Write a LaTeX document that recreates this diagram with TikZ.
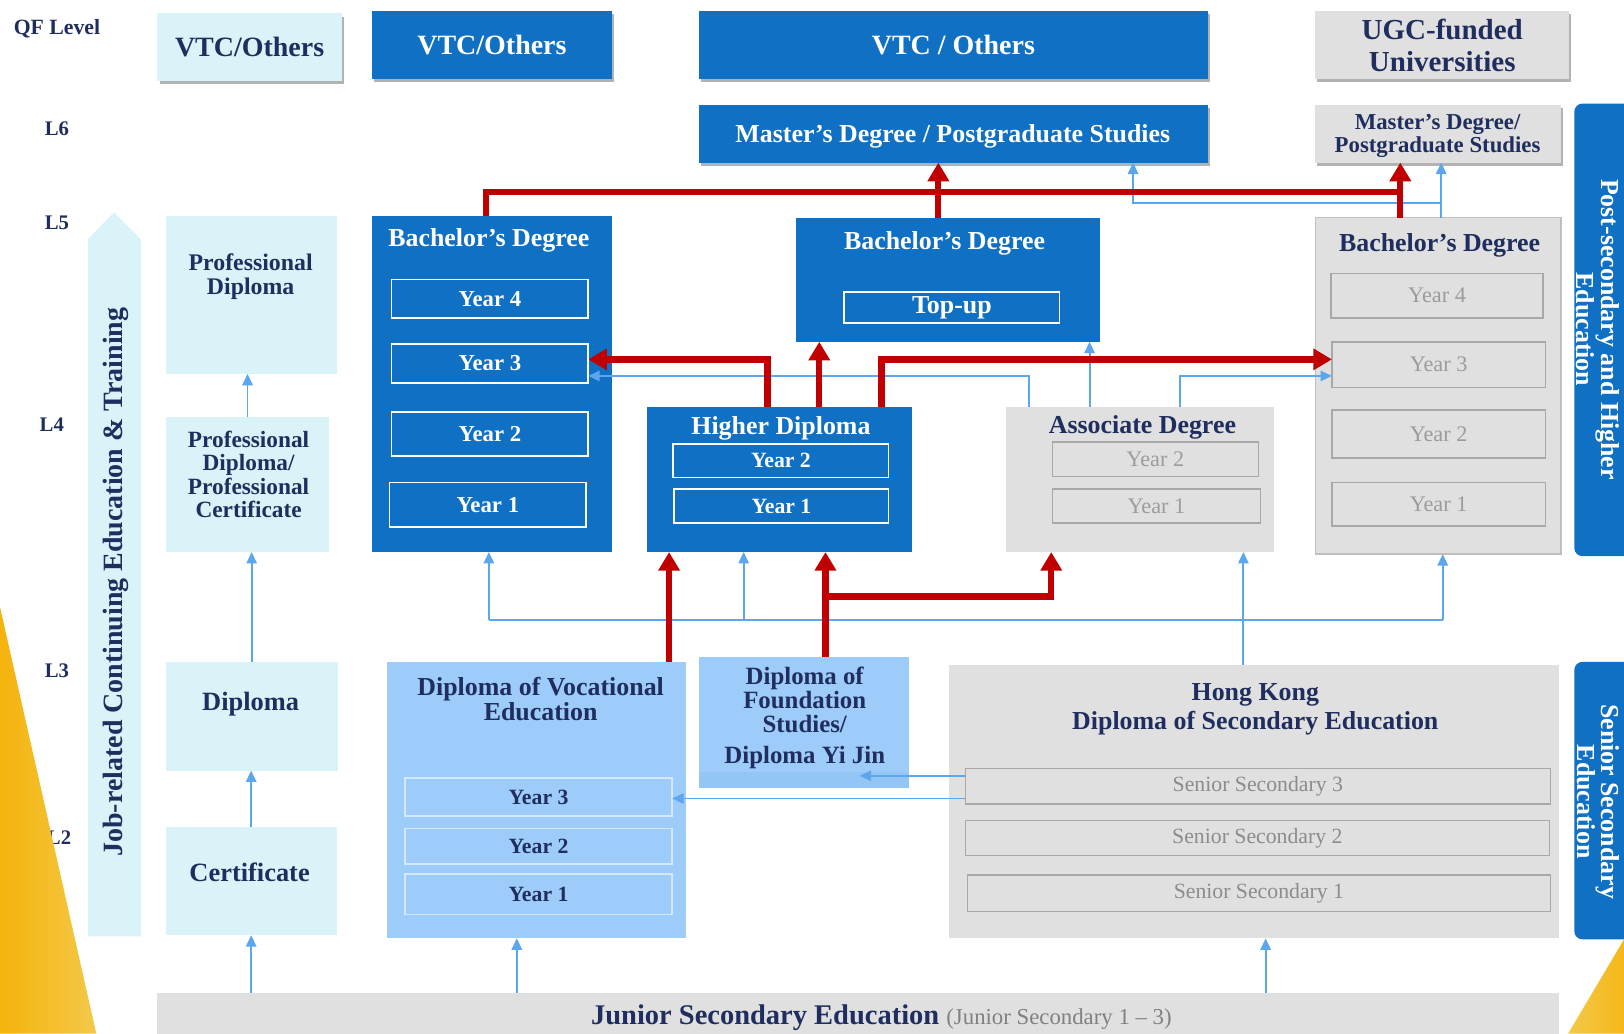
\documentclass[tikz,border=0pt]{standalone}
\usepackage{fontspec}
\setmainfont{Liberation Serif}
\usetikzlibrary{arrows.meta,shadows}
\definecolor{dkblue}{HTML}{1070C4}
\definecolor{lcyan}{HTML}{DAF3F8}
\definecolor{lblue}{HTML}{9DCCFB}
\definecolor{lbluedark}{HTML}{93C5F5}
\definecolor{lgray}{HTML}{E0E0E0}
\definecolor{navy}{HTML}{1F2E5E}
\definecolor{conblue}{HTML}{5BA6EC}
\definecolor{arred}{HTML}{C00000}
\definecolor{ygold}{HTML}{F5B30C}
\definecolor{ylight}{HTML}{F3C94A}
\definecolor{gtext}{HTML}{9C9C9C}
\definecolor{gtextb}{HTML}{8C8C8C}
\definecolor{gborder}{HTML}{A8A8A8}
\newcommand\dsz[2]{\fontsize{#1}{#2}\selectfont}
\newcommand\mybox[7]{\node[#2,minimum width={#5pt-#3pt},minimum height={#6pt-#4pt}] (#1) at ({(#3+#5)/2},{(#4+#6)/2}) {#7};}
\begin{document}
\begin{tikzpicture}[x=1pt,y=-1pt,
  base/.style={inner sep=0pt,outer sep=0pt,align=center},
  darkbox/.style={base,fill=dkblue,text=white,font=\bfseries},
  darkin/.style={base,fill=dkblue,draw=white,line width=1.6pt,text=white,font=\bfseries\dsz{22}{24}},
  cyanbox/.style={base,fill=lcyan,text=navy,font=\bfseries},
  graybox/.style={base,fill=lgray,text=navy,font=\bfseries},
  grayin/.style={base,fill=lgray,draw=gborder,line width=1.5pt,text=gtext,font=\dsz{21.5}{23}},
  lbluebox/.style={base,fill=lblue,text=navy},
  lbluein/.style={base,fill=lblue,draw=white!55!lblue,line width=1.5pt,text=navy,font=\bfseries\dsz{21}{23}},
  hdr/.style={drop shadow={shadow xshift=2pt,shadow yshift=-3pt,opacity=0.3,fill=black}},
  sidebox/.style={base,fill=dkblue,rounded corners=8pt},
  ttl/.style={base,font=\bfseries\dsz{25}{27}},
  ctext/.style={base,text=navy},
  lvl/.style={base,text=navy,font=\bfseries\dsz{20}{22}},
  bline/.style={draw=conblue,line width=1.8pt},
  bcon/.style={bline,-{Triangle[width=10pt,length=11pt]}},
  rline/.style={draw=arred,line width=6pt},
  rcon/.style={rline,-{Triangle[width=20pt,length=18pt]}}
]
\useasboundingbox (0,0) rectangle (1568,998);
\clip (0,0) rectangle (1568,998);
\fill[white] (0,0) rectangle (1568,998);

% level labels
\node[lvl,font=\bfseries\dsz{21}{23}] (qf) at (55,28) {QF Level};
\node[lvl] (l6) at (55,124) {L6};
\node[lvl] (l5) at (55,215) {L5};
\node[lvl] (l4) at (50,410) {L4};
\node[lvl] (l3) at (55,648) {L3};
\node[lvl] (l2) at (57,809) {L2};

% headers
\mybox{hdrA}{cyanbox,hdr,font=\bfseries\dsz{27}{30}}{152}{13}{330}{78}{VTC/Others}
\mybox{hdrB}{darkbox,hdr,font=\bfseries\dsz{27}{30}}{359}{11}{591}{76}{VTC/Others}
\mybox{hdrC}{darkbox,hdr,font=\bfseries\dsz{27}{30}}{675}{11}{1166}{76}{VTC / Others}
\mybox{hdrD}{graybox,hdr,font=\bfseries\dsz{28}{31}}{1270}{11}{1515}{76}{UGC-funded\\Universities}
\mybox{mastersV}{darkbox,hdr}{675}{101}{1166}{157}{}
\node[base,text=white,font=\bfseries\dsz{25}{27}] (mVt) at (920,132) {Master’s Degree / Postgraduate Studies};
\mybox{mastersU}{graybox,hdr}{1270}{101}{1507}{157}{}
\node[base,text=navy,font=\bfseries\dsz{22}{22}] (mUt) at (1388,131) {Master’s Degree/\\Postgraduate Studies};

% bachelor's (left)
\mybox{bachL}{darkbox}{359}{209}{591}{533}{}
\mybox{bl4}{darkin}{378}{270}{568}{307}{Year 4}
\mybox{bl3}{darkin}{378}{332}{568}{370}{Year 3}
\mybox{bl2}{darkin}{378}{398}{568}{440}{Year 2}
\mybox{bl1}{darkin}{376}{466}{566}{509}{Year 1}
\node[ttl,text=white] (bLt) at (472,232) {Bachelor’s Degree};
% bachelor's (middle)
\mybox{bachM}{darkbox}{769}{210}{1062}{330}{}
\mybox{topup}{darkin,font=\bfseries\dsz{25}{27}}{815}{282}{1023}{312}{Top-up}
\node[ttl,text=white] (bMt) at (912,235) {Bachelor’s Degree};
% bachelor's (right)
\mybox{bachR}{graybox,draw=gray!50,line width=1.5pt}{1270}{210}{1507}{535}{}
\mybox{br4}{grayin}{1285}{264}{1490}{307}{Year 4}
\mybox{br3}{grayin}{1286}{330}{1492}{374}{Year 3}
\mybox{br2}{grayin}{1286}{396}{1492}{442}{Year 2}
\mybox{br1}{grayin}{1286}{466}{1492}{508}{Year 1}
\node[ttl,text=navy] (bRt) at (1390,237) {Bachelor’s Degree};
% higher diploma
\mybox{hd}{darkbox}{625}{393}{881}{533}{}
\mybox{hd2}{darkin,font=\bfseries\dsz{21}{23}}{650}{429}{858}{461}{Year 2}
\mybox{hd1}{darkin,font=\bfseries\dsz{21}{23}}{651}{472}{858}{505}{Year 1}
\node[ttl,text=white] (hdt) at (754,414) {Higher Diploma};
% associate degree
\mybox{ad}{graybox}{971}{393}{1230}{533}{}
\mybox{ad2}{grayin}{1016}{427}{1215}{460}{Year 2}
\mybox{ad1}{grayin}{1016}{472}{1217}{505}{Year 1}
\node[ttl,text=navy] (adt) at (1103,413) {Associate Degree};

% left column
\fill[lcyan] (85,904) -- (85,231) -- (110,205) -- (136,231) -- (136,904) -- cycle;
\node[ctext,rotate=90,font=\bfseries\dsz{27}{29}] (jobt) at (112,562) {Job-related Continuing Education \& Training};
\mybox{pd}{cyanbox}{160}{209}{325}{361}{}
\mybox{pdpc}{cyanbox}{160}{403}{318}{533}{}
\mybox{dip}{cyanbox}{160}{639}{326}{744}{}
\mybox{cert}{cyanbox}{160}{798}{325}{903}{}
\node[ctext,font=\bfseries\dsz{23}{23}] (pdt) at (242,267) {Professional\\Diploma};
\node[ctext,font=\bfseries\dsz{22.5}{22.3}] (pdpct) at (240,458) {Professional\\Diploma/\\Professional\\Certificate};
\node[ctext,font=\bfseries\dsz{25.5}{27}] (dipt) at (242,680) {Diploma};
\node[ctext,font=\bfseries\dsz{25.5}{27}] (certt) at (241,842) {Certificate};

% lower row
\mybox{dve}{lbluebox}{374}{639}{662}{906}{}
\mybox{dv3}{lbluein}{391}{751}{649}{788}{Year 3}
\mybox{dv2}{lbluein}{391}{800}{649}{834}{Year 2}
\mybox{dv1}{lbluein}{391}{844}{649}{883}{Year 1}
\node[ctext,font=\bfseries\dsz{25}{24}] (dvet) at (522,675) {Diploma of Vocational\\Education};
\mybox{dfs}{lbluebox}{675}{634}{878}{761}{}
\fill[lbluedark] (675,745) rectangle (878,761);
\node[ctext,font=\bfseries\dsz{24}{23.5}] (dfst) at (777,693) {Diploma of\\Foundation\\Studies/\\[6pt]Diploma Yi Jin};
\mybox{hkdse}{graybox}{916}{642}{1505}{906}{}
\mybox{ss3}{grayin,text=gtextb,font=\dsz{21}{23}}{932}{742}{1497}{776}{Senior Secondary 3}
\mybox{ss2}{grayin,text=gtextb,font=\dsz{21}{23}}{932}{792}{1496}{826}{Senior Secondary 2}
\mybox{ss1}{grayin,text=gtextb,font=\dsz{21}{23}}{934}{845}{1497}{880}{Senior Secondary 1}
\node[ctext,font=\bfseries\dsz{25}{28}] (hkt) at (1212,685) {Hong Kong\\Diploma of Secondary Education};
\mybox{jse}{graybox}{152}{959}{1505}{1012}{}
\node[base,anchor=base] (jset) at (851,989) {\color{navy}\bfseries\dsz{27.5}{29}Junior Secondary Education \color{gray}\mdseries\dsz{22}{24}(Junior Secondary 1 – 3)};

% side labels
\mybox{post}{sidebox}{1520}{100}{1612}{537}{}
\mybox{senior}{sidebox}{1520}{639}{1612}{907}{}
\node[base,rotate=-90,text=white,font=\bfseries\dsz{25}{21.5}] (postt) at (1543,318) {Post-secondary and Higher\\Education};
\node[base,rotate=-90,text=white,font=\bfseries\dsz{25}{21.5}] (seniort) at (1543,774) {Senior Secondary\\Education};

% ---------- blue connectors ----------
\draw[bcon] (cert.south |- jse.north) -- (cert.south);
\coordinate (dvS) at ([xshift=-19pt]dve.south);
\draw[bcon] (dvS |- jse.north) -- (dvS);
\coordinate (hkS) at ([xshift=11.5pt]hkdse.south);
\draw[bcon] (hkS |- jse.north) -- (hkS);
\draw[bcon] (cert.north) -- (cert.north |- dip.south);
\draw[bcon] (dip.north) -- (dip.north |- pdpc.south);
\draw[bcon] (pdpc.north) -- (pdpc.north |- pd.south);

\coordinate (hkN) at ([xshift=-10pt]hkdse.north);
\draw[bcon] (hkN) -- (hkN |- ad.south);
\coordinate (hub) at (1200.5,599);
\coordinate (bLs) at ([xshift=-3pt]bachL.south);
\coordinate (hdS) at ([xshift=-35pt]hd.south);
\coordinate (bRs) at ([xshift=4.5pt]bachR.south);
\draw[bline] (bLs |- hub) -- (bRs |- hub);
\draw[bcon] (bLs |- hub) -- (bLs);
\draw[bcon] (hdS |- hub) -- (hdS);
\draw[bcon] (bRs |- hub) -- (bRs);

\coordinate (s3a) at ([yshift=10pt]ss3.west);
\coordinate (s3b) at ([yshift=-12pt]ss3.west);
\coordinate (dfsin) at ([xshift=-48pt]dfs.east);
\draw[bcon] (s3a) -- (s3a -| dfsin);
\draw[bcon] (s3b) -- (s3b -| dv3.east);

\coordinate (adA) at ([xshift=-107pt]ad.north);
\draw[bcon] (adA) |- ([yshift=-12pt]bl3.east);
\coordinate (adB) at ([xshift=-48.5pt]ad.north);
\draw[bcon] (adB) -- (adB |- bachM.south);
\coordinate (adC) at ([xshift=39pt]ad.north);
\draw[bcon] (adC) |- ([yshift=-11pt]br3.west);

\coordinate (bRn) at ([xshift=3pt]bachR.north);
\draw[bcon] (bRn) -- (bRn |- mastersU.south);
\coordinate (ubr) at ([yshift=14pt]bRn);
\coordinate (mVb) at ([xshift=173.5pt]mastersV.south);
\draw[bcon] (ubr) -| (mVb);

% ---------- red connectors ----------
\coordinate (bLn) at ([xshift=-6pt]bachL.north);
\coordinate (bRr) at ([xshift=-36.5pt]bachR.north);
\coordinate (redj) at ([yshift=25pt]bRr);
\draw[rline] (bLn) |- (redj);
\draw[rcon] (bRr) -- (bRr |- mastersU.south);
\coordinate (bMn) at ([xshift=-9.5pt]bachM.north);
\draw[rcon] (bMn) -- (bMn |- mastersV.south);
\coordinate (hdA) at ([xshift=-12pt]hd.north);
\draw[rcon] (hdA) |- ([yshift=4pt]bl3.east);
\coordinate (hdB) at ([xshift=38pt]hd.north);
\draw[rcon] (hdB) -- (hdB |- bachM.south);
\coordinate (hdC) at ([xshift=98pt]hd.north);
\draw[rcon] (hdC) |- ([yshift=5pt]br3.west);
\coordinate (dvN) at ([xshift=128pt]dve.north);
\draw[rcon] (dvN) -- (dvN |- hd.south);
\coordinate (dfN) at ([xshift=20.5pt]dfs.north);
\draw[rcon] (dfN) -- (dfN |- hd.south);
\coordinate (rb) at ([yshift=58pt]dfN);
\coordinate (adS) at ([xshift=-85.5pt]ad.south);
\draw[rcon] (rb) -| (adS);

% ---------- yellow corners ----------
\shade[left color=ygold,right color=ylight] (0,586) -- (93,998) -- (0,998) -- cycle;
\shade[left color=ylight,right color=ygold!80!ylight] (1568,907) -- (1568,998) -- (1514,998) -- cycle;
\end{tikzpicture}
\end{document}
